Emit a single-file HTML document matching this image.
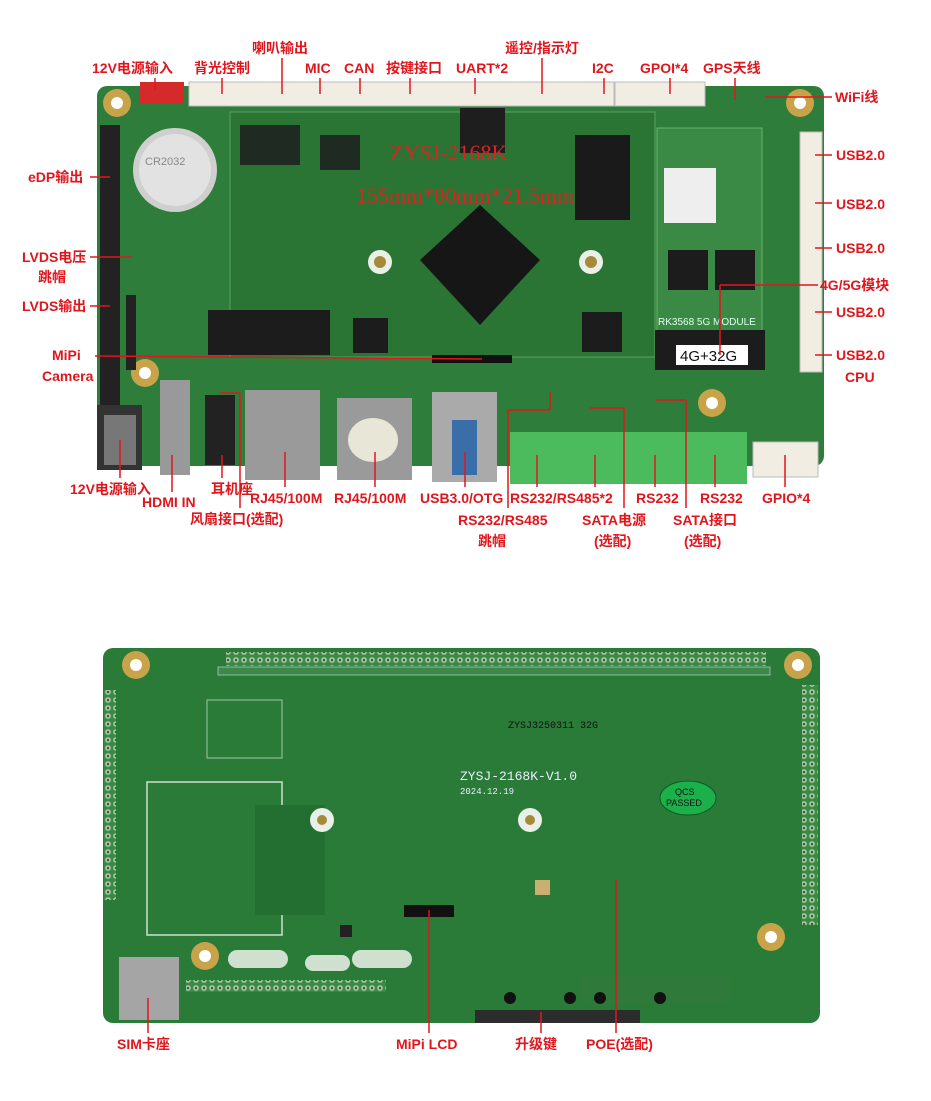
<!DOCTYPE html>
<html><head><meta charset="utf-8"><style>
html,body{margin:0;padding:0;background:#fff;}
svg{display:block}
.l{font-family:"Liberation Sans","Noto Sans CJK SC",sans-serif;font-weight:bold;font-size:14px;fill:#e0161d}
</style></head><body>
<svg width="931" height="1101" viewBox="0 0 931 1101" xmlns="http://www.w3.org/2000/svg">
<defs>
<pattern id="pads" width="8" height="8" patternUnits="userSpaceOnUse"><rect width="8" height="8" fill="#3a8a45"/><circle cx="4" cy="4" r="2.8" fill="#b9c9b0"/><circle cx="4" cy="4" r="1.3" fill="#2a6a34"/></pattern>
</defs>
<!-- TOP BOARD -->
<rect x="97" y="86" width="727" height="380" rx="10" fill="#2f7d3a"/>
<rect x="230" y="112" width="425" height="245" fill="#2a7434" stroke="#5aa15f" stroke-width="1"/>
<rect x="657" y="128" width="105" height="205" fill="#3a8a45" stroke="#6ab36b"/>
<circle cx="117" cy="103" r="14" fill="#c9a34a"/><circle cx="117" cy="103" r="6" fill="#fff"/>
<circle cx="800" cy="103" r="14" fill="#c9a34a"/><circle cx="800" cy="103" r="6" fill="#fff"/>
<circle cx="145" cy="373" r="14" fill="#c9a34a"/><circle cx="145" cy="373" r="6" fill="#fff"/>
<circle cx="712" cy="403" r="14" fill="#c9a34a"/><circle cx="712" cy="403" r="6" fill="#fff"/>
<circle cx="380" cy="262" r="12" fill="#e8f0e8"/><circle cx="380" cy="262" r="6" fill="#a58a3a"/>
<circle cx="591" cy="262" r="12" fill="#e8f0e8"/><circle cx="591" cy="262" r="6" fill="#a58a3a"/>
<rect x="140" y="82" width="44" height="22" fill="#d42a2a"/>
<rect x="189" y="82" width="425" height="24" fill="#f2ede2" stroke="#bbb"/>
<rect x="615" y="82" width="90" height="24" fill="#f2ede2" stroke="#bbb"/>
<rect x="800" y="132" width="22" height="240" fill="#f2ede2" stroke="#bbb"/>
<circle cx="175" cy="170" r="42" fill="#cfcfcf"/><circle cx="175" cy="170" r="36" fill="#e2e2e2"/>
<text x="145" y="165" style="font:11px Liberation Sans;fill:#888">CR2032</text>
<rect x="100" y="125" width="20" height="285" fill="#222"/>
<rect x="126" y="295" width="10" height="75" fill="#222"/>
<polygon points="480,205 540,260 480,325 420,260" fill="#161616"/>
<rect x="460" y="108" width="45" height="45" fill="#1e1e1e"/>
<rect x="575" y="135" width="55" height="85" fill="#1a1a1a"/>
<rect x="240" y="125" width="60" height="40" fill="#1f2a22"/>
<rect x="320" y="135" width="40" height="35" fill="#1f2a22"/>
<rect x="208" y="310" width="62" height="45" fill="#1c1c1c"/>
<rect x="270" y="310" width="60" height="45" fill="#1c1c1c"/>
<rect x="582" y="312" width="40" height="40" fill="#1c1c1c"/>
<rect x="353" y="318" width="35" height="35" fill="#1c1c1c"/>
<rect x="664" y="168" width="52" height="55" fill="#eee"/>
<rect x="668" y="250" width="40" height="40" fill="#1c1c1c"/><rect x="715" y="250" width="40" height="40" fill="#1c1c1c"/>
<rect x="655" y="330" width="110" height="40" fill="#1c1c1c"/>
<rect x="676" y="345" width="72" height="20" fill="#fff"/>
<text x="680" y="361" style="font:15px Liberation Sans;fill:#111">4G+32G</text>
<text x="390" y="160" style="font:22px Liberation Serif;fill:#d22">ZYSJ-2168K</text>
<text x="356" y="203" style="font:22px Liberation Serif;fill:#d22">155mm*80mm*21.5mm</text>
<text x="658" y="325" style="font:10px Liberation Sans;fill:#dfe">RK3568 5G MODULE</text>
<rect x="432" y="355" width="80" height="8" fill="#111"/>
<rect x="97" y="405" width="45" height="65" fill="#333"/><rect x="104" y="415" width="32" height="50" fill="#777"/>
<rect x="160" y="380" width="30" height="95" fill="#999"/>
<rect x="205" y="395" width="30" height="70" fill="#222"/>
<rect x="245" y="390" width="75" height="90" fill="#9a9a9a"/>
<rect x="337" y="398" width="75" height="82" fill="#9a9a9a"/><ellipse cx="373" cy="440" rx="25" ry="22" fill="#e8e6d6"/>
<rect x="432" y="392" width="65" height="90" fill="#aaa"/><rect x="452" y="420" width="25" height="55" fill="#3a6ea8"/>
<rect x="510" y="432" width="237" height="52" fill="#4cbb5e"/>
<rect x="753" y="442" width="65" height="35" fill="#f2ede2" stroke="#bbb"/>
<!-- BOTTOM BOARD -->
<rect x="103" y="648" width="717" height="375" rx="10" fill="#2a7a38"/>
<rect x="226" y="652" width="540" height="14" fill="url(#pads)"/>
<rect x="218" y="667" width="552" height="8" fill="#3d8a48" stroke="#cde" stroke-width="0.6"/>
<rect x="104" y="690" width="12" height="210" fill="url(#pads)"/>
<rect x="802" y="685" width="16" height="240" fill="url(#pads)"/>
<rect x="147" y="782" width="135" height="153" fill="none" stroke="#cfe0cf" stroke-width="1.5"/>
<rect x="207" y="700" width="75" height="58" fill="none" stroke="#9fc89f"/>
<rect x="119" y="957" width="60" height="63" fill="#a5a5a5"/>
<rect x="228" y="950" width="60" height="18" rx="9" fill="#cfe0cf"/>
<rect x="305" y="955" width="45" height="16" rx="8" fill="#cfe0cf"/>
<rect x="352" y="950" width="60" height="18" rx="9" fill="#cfe0cf"/>
<rect x="186" y="980" width="200" height="12" fill="url(#pads)"/>
<rect x="255" y="805" width="70" height="110" fill="#236f31"/>
<circle cx="136" cy="665" r="14" fill="#c9a34a"/><circle cx="136" cy="665" r="6" fill="#fff"/>
<circle cx="798" cy="665" r="14" fill="#c9a34a"/><circle cx="798" cy="665" r="6" fill="#fff"/>
<circle cx="205" cy="956" r="14" fill="#c9a34a"/><circle cx="205" cy="956" r="6" fill="#fff"/>
<circle cx="771" cy="937" r="14" fill="#c9a34a"/><circle cx="771" cy="937" r="6" fill="#fff"/>
<circle cx="322" cy="820" r="12" fill="#e8f0e8"/><circle cx="322" cy="820" r="5" fill="#a58a3a"/>
<circle cx="530" cy="820" r="12" fill="#e8f0e8"/><circle cx="530" cy="820" r="5" fill="#a58a3a"/>
<ellipse cx="688" cy="798" rx="28" ry="17" fill="#1bb04a" stroke="#0d5a20"/>
<text x="675" y="795" style="font:9px Liberation Sans;fill:#111">QCS</text><text x="666" y="806" style="font:9px Liberation Sans;fill:#111">PASSED</text>
<text x="460" y="780" style="font:13px Liberation Mono;fill:#eef">ZYSJ-2168K-V1.0</text>
<text x="460" y="794" style="font:9px Liberation Mono;fill:#eef">2024.12.19</text>
<text x="508" y="728" style="font:10px Liberation Mono;fill:#111">ZYSJ3250311 32G</text>
<rect x="404" y="905" width="50" height="12" fill="#111"/>
<rect x="340" y="925" width="12" height="12" fill="#222"/>
<rect x="535" y="880" width="15" height="15" fill="#c9b070"/>
<rect x="580" y="975" width="150" height="28" fill="#2f7a3a"/>
<circle cx="510" cy="998" r="6" fill="#111"/><circle cx="570" cy="998" r="6" fill="#111"/><circle cx="600" cy="998" r="6" fill="#111"/><circle cx="660" cy="998" r="6" fill="#111"/>
<rect x="475" y="1010" width="165" height="13" fill="#2c2c2c"/>
<!-- LABELS -->
<g class="l">
<text x="92" y="73">12V电源输入</text><text x="194" y="73">背光控制</text>
<text x="252" y="53">喇叭输出</text><text x="305" y="73">MIC</text><text x="344" y="73">CAN</text>
<text x="386" y="73">按键接口</text><text x="456" y="73">UART*2</text><text x="505" y="53">遥控/指示灯</text>
<text x="592" y="73">I2C</text><text x="640" y="73">GPOI*4</text><text x="703" y="73">GPS天线</text>
<text x="835" y="102">WiFi线</text>
<text x="28" y="182">eDP输出</text><text x="22" y="262">LVDS电压</text><text x="38" y="282">跳帽</text>
<text x="22" y="311">LVDS输出</text><text x="52" y="360">MiPi</text><text x="42" y="381">Camera</text>
<text x="836" y="160">USB2.0</text><text x="836" y="209">USB2.0</text><text x="836" y="253">USB2.0</text>
<text x="820" y="290">4G/5G模块</text><text x="836" y="317">USB2.0</text><text x="836" y="360">USB2.0</text>
<text x="845" y="382">CPU</text>
<text x="70" y="494">12V电源输入</text><text x="142" y="507">HDMI IN</text><text x="211" y="494">耳机座</text>
<text x="190" y="524">风扇接口(选配)</text><text x="250" y="503">RJ45/100M</text><text x="334" y="503">RJ45/100M</text>
<text x="420" y="503">USB3.0/OTG</text><text x="510" y="503">RS232/RS485*2</text><text x="458" y="525">RS232/RS485</text>
<text x="478" y="546">跳帽</text><text x="582" y="525">SATA电源</text><text x="594" y="546">(选配)</text>
<text x="636" y="503">RS232</text><text x="700" y="503">RS232</text><text x="673" y="525">SATA接口</text>
<text x="684" y="546">(选配)</text><text x="762" y="503">GPIO*4</text>
<text x="117" y="1049">SIM卡座</text><text x="396" y="1049">MiPi LCD</text><text x="515" y="1049">升级键</text>
<text x="586" y="1049">POE(选配)</text>
</g>
<g stroke="#e0161d" stroke-width="1.5" fill="none">
<line x1="155" y1="78" x2="155" y2="90"/><line x1="222" y1="78" x2="222" y2="94"/><line x1="282" y1="58" x2="282" y2="94"/>
<line x1="320" y1="78" x2="320" y2="94"/><line x1="360" y1="78" x2="360" y2="94"/><line x1="410" y1="78" x2="410" y2="94"/>
<line x1="475" y1="78" x2="475" y2="94"/><line x1="542" y1="58" x2="542" y2="94"/><line x1="604" y1="78" x2="604" y2="94"/>
<line x1="670" y1="78" x2="670" y2="94"/><line x1="735" y1="78" x2="735" y2="100"/><line x1="765" y1="97" x2="832" y2="97"/>
<line x1="90" y1="177" x2="110" y2="177"/><line x1="90" y1="257" x2="132" y2="257"/><line x1="90" y1="306" x2="110" y2="306"/>
<line x1="95" y1="356" x2="482" y2="359"/>
<line x1="815" y1="155" x2="832" y2="155"/><line x1="815" y1="203" x2="832" y2="203"/><line x1="815" y1="248" x2="832" y2="248"/>
<line x1="720" y1="285" x2="818" y2="285"/><line x1="720" y1="285" x2="720" y2="355"/>
<line x1="815" y1="312" x2="832" y2="312"/><line x1="815" y1="355" x2="832" y2="355"/>
<line x1="120" y1="440" x2="120" y2="478"/><line x1="172" y1="455" x2="172" y2="492"/><line x1="222" y1="455" x2="222" y2="478"/>
<line x1="220" y1="393" x2="240" y2="393"/><line x1="240" y1="393" x2="240" y2="508"/>
<line x1="285" y1="452" x2="285" y2="487"/><line x1="375" y1="452" x2="375" y2="487"/><line x1="465" y1="452" x2="465" y2="487"/>
<line x1="537" y1="455" x2="537" y2="487"/><line x1="595" y1="455" x2="595" y2="487"/><line x1="655" y1="455" x2="655" y2="487"/>
<line x1="715" y1="455" x2="715" y2="487"/><line x1="785" y1="455" x2="785" y2="487"/>
<line x1="550" y1="392" x2="550" y2="410"/><line x1="508" y1="410" x2="550" y2="410"/><line x1="508" y1="410" x2="508" y2="508"/>
<line x1="590" y1="408" x2="624" y2="408"/><line x1="624" y1="408" x2="624" y2="508"/>
<line x1="655" y1="400" x2="686" y2="400"/><line x1="686" y1="400" x2="686" y2="508"/>
<line x1="148" y1="998" x2="148" y2="1033"/><line x1="429" y1="910" x2="429" y2="1033"/>
<line x1="541" y1="1012" x2="541" y2="1033"/><line x1="616" y1="880" x2="616" y2="1033"/>
</g>
</svg>
</body></html>
